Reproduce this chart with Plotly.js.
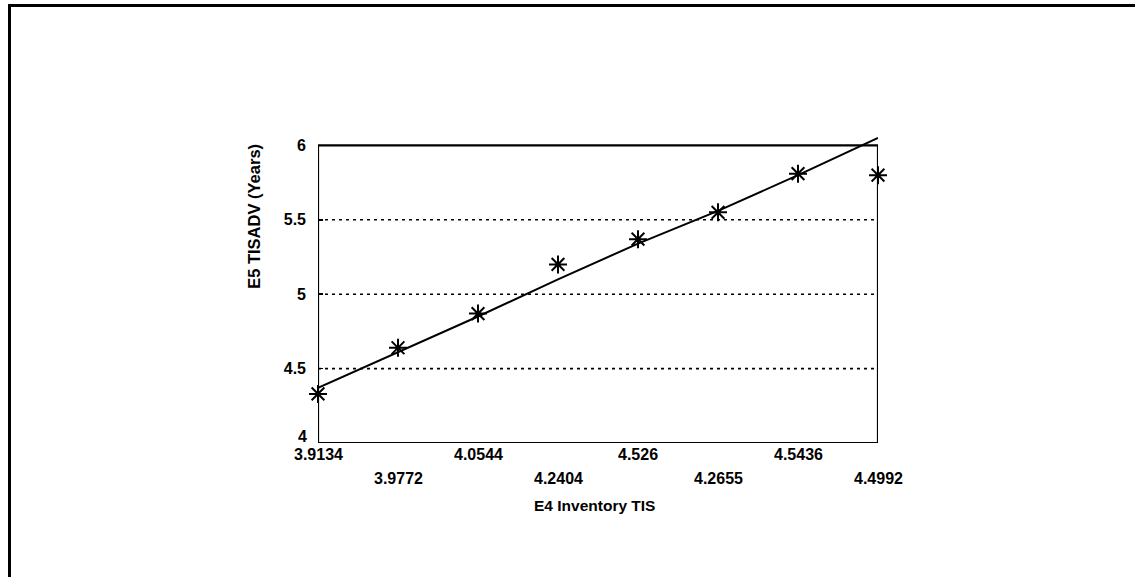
<!DOCTYPE html>
<html>
<head>
<meta charset="utf-8">
<script src="https://cdn.plot.ly/plotly-3.0.1.min.js"></script>
<style>
  html, body { margin: 0; padding: 0; background: #fff; }
  #wrap { position: relative; width: 1135px; height: 577px; overflow: hidden; }
  #chart { position: absolute; left: 0; top: 0; width: 1135px; height: 577px; }
  #frame { position: absolute; left: 8px; top: 4px; right: -10px; bottom: -10px;
           border-left: 3px solid #000; border-top: 3px solid #000; pointer-events: none; }
</style>
</head>
<body>
<div id="wrap">
  <div id="chart"></div>
  <div id="frame"></div>
</div>
<script>
// Category positions along the x axis (one per observation)
const positions = [1, 2, 3, 4, 5, 6, 7, 8];
// X tick labels: E4 Inventory TIS
const xTickLabels = ['3.9134', '3.9772', '4.0544', '4.2404', '4.526', '4.2655', '4.5436', '4.4992'];
// Observed E5 TISADV (Years)
const observed = [4.33, 4.64, 4.87, 5.20, 5.37, 5.55, 5.81, 5.80];
// Fitted line values
const fitted = [4.37, 4.61, 4.85, 5.10, 5.34, 5.56, 5.80, 6.05];
// Y ticks
const yTicks = [4, 4.5, 5, 5.5, 6];
const yTickLabels = ['4', '4.5', '5', '5.5', '6'];
// Dotted grid levels
const gridLevels = [4.5, 5, 5.5];

const FONT = 'Liberation Sans, Arial, sans-serif';
const TICKFONT = { family: FONT, size: 16, color: '#000', weight: 'bold' };

const traces = [
  {
    x: positions, y: fitted, type: 'scatter', mode: 'lines',
    line: { color: '#000', width: 2 }, hoverinfo: 'skip', showlegend: false
  },
  {
    x: positions, y: observed, type: 'scatter', mode: 'markers',
    marker: { symbol: 'asterisk-open', size: 15, color: '#000', line: { color: '#000', width: 2 } },
    cliponaxis: false, showlegend: false
  }
];

const xMin = positions[0], xMax = positions[positions.length - 1];

const shapes = gridLevels.map(g => ({
  type: 'line', xref: 'x', yref: 'y', x0: xMin, x1: xMax, y0: g, y1: g,
  line: { color: '#000', width: 1.6, dash: '3px,4px' }, layer: 'below'
}));
shapes.push({
  type: 'rect', xref: 'x', yref: 'y', x0: xMin, x1: xMax, y0: yTicks[0], y1: yTicks[yTicks.length - 1],
  line: { color: '#000', width: 2.2 }, layer: 'above'
});

// bottom-most y label sits a little above its tick (as in the reference)
const yAxisTickText = yTickLabels.map((t, i) => i === 0 ? '' : t);

const annotations = positions.map((p, i) => ({
  x: p, y: yTicks[0], xref: 'x', yref: 'y',
  text: xTickLabels[i], showarrow: false,
  xanchor: 'center', yanchor: 'top',
  yshift: (i % 2 === 0) ? -1 : -25,
  font: TICKFONT
}));
annotations.push({
  x: xMin, y: yTicks[0], xref: 'x', yref: 'y', text: yTickLabels[0], showarrow: false,
  xanchor: 'right', yanchor: 'bottom', xshift: -9, yshift: -4,
  font: TICKFONT
});
annotations.push({
  x: 4.45, y: yTicks[0], xref: 'x', yref: 'y', text: 'E4 Inventory TIS', showarrow: false,
  xanchor: 'center', yanchor: 'middle', yshift: -62,
  font: { family: FONT, size: 15.5, color: '#000', weight: 'bold' }
});
annotations.push({
  x: xMin, y: 5.52, xref: 'x', yref: 'y', text: 'E5 TISADV (Years)', showarrow: false,
  textangle: -90, xanchor: 'center', yanchor: 'middle', xshift: -64,
  font: { family: FONT, size: 16.5, color: '#000', weight: 'bold' }
});

const layout = {
  width: 1135, height: 577,
  margin: { l: 318, r: 257, t: 135, b: 134 },
  paper_bgcolor: '#fff', plot_bgcolor: '#fff',
  showlegend: false,
  xaxis: {
    range: [xMin, xMax], showgrid: false, zeroline: false, showline: false,
    showticklabels: false, ticks: '', fixedrange: true
  },
  yaxis: {
    range: [4, 6.07], showgrid: false, zeroline: false, showline: false,
    tickmode: 'array', tickvals: yTicks, ticktext: yAxisTickText,
    ticks: 'inside', ticklen: 5, tickcolor: '#000', tickwidth: 1.5,
    ticklabelstandoff: 11,
    tickfont: TICKFONT,
    fixedrange: true
  },
  shapes: shapes,
  annotations: annotations
};

Plotly.newPlot('chart', traces, layout, { displayModeBar: false, staticPlot: true });
</script>
</body>
</html>
